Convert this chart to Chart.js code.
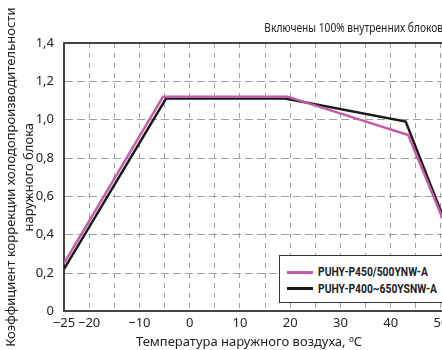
<!DOCTYPE html>
<html>
<head>
<meta charset="utf-8">
<script src="https://cdn.jsdelivr.net/npm/chart.js@4/dist/chart.umd.min.js"></script>
<style>
  html, body { margin: 0; padding: 0; background: #fff; width: 442px; height: 350px; overflow: hidden; }
  #wrap { position: relative; width: 470px; height: 350px; }
  #legend {
    position: absolute; left: 279px; top: 255px; width: 180px; height: 48px;
    border: 1.5px solid #333; background: #fff; box-sizing: border-box;
    font-family: Roboto, sans-serif; font-weight: bold; font-size: 12px; color: #222;
    padding-top: 8px; white-space: nowrap;
  }
  .item { display: flex; align-items: center; height: 16.6px; }
  .swatch { width: 26px; height: 3px; margin: 0 5px 0 6.5px; flex: none; }
  .txt { display: inline-block; transform: scaleX(0.86); transform-origin: left center; }
</style>
</head>
<body>
<div id="wrap">
  <canvas id="chart" width="470" height="350"></canvas>
  <div id="legend"></div>
</div>
<script>
// подписи и данные
const xTicks = [-25, -20, -15, -10, -5, 0, 5, 10, 15, 20, 25, 30, 35, 40, 45, 50, 55];
const xLabelled = [-25, -20, -10, 0, 10, 20, 30, 40, 50];
const yTicks = [0, 0.2, 0.4, 0.6, 0.8, 1.0, 1.2, 1.4];

const seriesNames = ['PUHY-P450/500YNW-A', 'PUHY-P400~650YSNW-A'];
const seriesColors = ['#c55aa8', '#1a1a1a'];

const pinkTemp = [-25, -5.3, 19.5, 43.5, 52];
const pinkCoef = [0.25, 1.12, 1.12, 0.92, 0.38];
const blackTemp = [-25, -4.7, 19, 43, 52];
const blackCoef = [0.22, 1.11, 1.11, 0.99, 0.39];

const topNote = 'Включены 100% внутренних блоков';
const xTitle = 'Температура наружного воздуха, ºC';
const yTitle = ['Коэффициент коррекции холодопроизводительности', 'наружного блока'];

const baseFont = "'Noto Sans', sans-serif";

const toPoints = (xs, ys) => xs.map((x, i) => ({ x: x, y: ys[i] }));

// подписи вне осей
const captions = {
  id: 'captions',
  afterDraw(chart) {
    const ctx = chart.ctx;
    ctx.save();
    ctx.fillStyle = '#222';
    ctx.textBaseline = 'middle';
    // узкая надпись справа сверху
    ctx.save();
    ctx.translate(443, 29);
    ctx.scale(0.85, 1);
    ctx.font = '12px ' + baseFont;
    ctx.textAlign = 'right';
    ctx.fillText(topNote, 0, 0);
    ctx.restore();
    ctx.font = '13px ' + baseFont;
    ctx.textAlign = 'center';
    ctx.fillText(xTitle, 249, 342);
    ctx.restore();
  }
};

const chart = new Chart(document.getElementById('chart'), {
  type: 'line',
  data: {
    datasets: [
      { label: seriesNames[0], data: toPoints(pinkTemp, pinkCoef), borderColor: seriesColors[0], backgroundColor: seriesColors[0] },
      { label: seriesNames[1], data: toPoints(blackTemp, blackCoef), borderColor: seriesColors[1], backgroundColor: seriesColors[1] }
    ]
  },
  options: {
    responsive: false,
    animation: false,
    layout: { padding: { top: 43, right: 4, bottom: 15, left: 0 } },
    elements: {
      line: { borderWidth: 2.5, tension: 0, borderJoinStyle: 'miter' },
      point: { radius: 0 }
    },
    plugins: {
      legend: { display: false },
      tooltip: { enabled: false }
    },
    scales: {
      x: {
        type: 'linear',
        min: -25,
        max: 55,
        afterBuildTicks: scale => { scale.ticks = xTicks.map(v => ({ value: v })); },
        ticks: {
          autoSkip: false,
          maxRotation: 0,
          padding: 4,
          color: '#222',
          font: { family: baseFont, size: 13 },
          callback: v => xLabelled.includes(v) ? String(v).replace('-', '\u2212') : ''
        },
        grid: { color: '#a0a0a0', lineWidth: 1, drawTicks: false },
        border: { color: '#444', width: 2, dash: [5, 5] }
      },
      x2: {
        type: 'linear',
        position: 'top',
        min: -25,
        max: 55,
        ticks: { display: false },
        grid: { display: false, drawTicks: false },
        border: { color: '#444', width: 2 }
      },
      y: {
        min: 0,
        max: 1.4,
        afterBuildTicks: scale => { scale.ticks = yTicks.map(v => ({ value: v })); },
        afterFit: scale => { scale.width = 64; },
        ticks: {
          padding: 10,
          color: '#222',
          font: { family: baseFont, size: 13 },
          callback: v => v === 0 ? '0' : v.toFixed(1).replace('.', ',')
        },
        grid: { color: '#a0a0a0', lineWidth: 1, drawTicks: false },
        border: { color: '#444', width: 2, dash: [8, 4] },
        title: {
          display: true,
          text: yTitle,
          color: '#222',
          font: { family: baseFont, size: 13, lineHeight: 1.35 },
          padding: { top: 3, bottom: 0 }
        }
      }
    }
  },
  plugins: [captions]
});

// легенда в рамке внутри графика
const legendBox = document.getElementById('legend');
chart.data.datasets.forEach(ds => {
  const item = document.createElement('div');
  item.className = 'item';
  const sw = document.createElement('span');
  sw.className = 'swatch';
  sw.style.background = ds.borderColor;
  const txt = document.createElement('span');
  txt.className = 'txt';
  txt.textContent = ds.label;
  item.appendChild(sw);
  item.appendChild(txt);
  legendBox.appendChild(item);
});
</script>
</body>
</html>
